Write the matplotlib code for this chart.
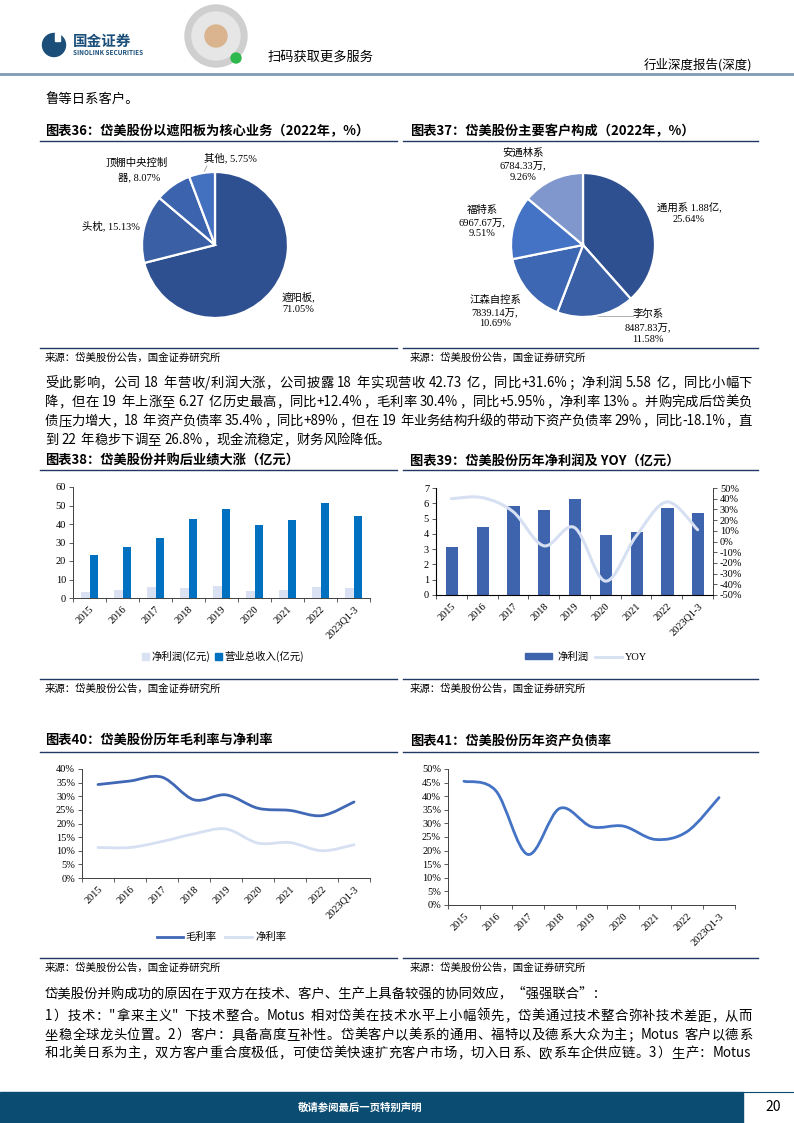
import numpy as np
import matplotlib
matplotlib.use('Agg')
import matplotlib.pyplot as plt
from matplotlib.path import Path
from matplotlib.patches import PathPatch, Rectangle, Circle
from matplotlib.lines import Line2D

plt.rcParams['font.family'] = ['Noto Sans CJK SC', 'DejaVu Sans']

W, H = 794, 1123

years = ['2015', '2016', '2017', '2018', '2019', '2020', '2021', '2022', '2023Q1-3']

# 图表36
biz_labels = ['遮阳板', '头枕', '顶棚中央控制器', '其他']
biz_share = [71.05, 15.13, 8.07, 5.75]
# 图表37
cust_labels = ['通用系', '李尔系', '江森自控系', '福特系', '安通林系']
cust_amount = ['1.88亿', '8487.83万', '7839.14万', '6967.67万', '6784.33万']
cust_share = [25.64, 11.58, 10.69, 9.51, 9.26]
# 图表38 / 39
net_profit = [3.15, 4.46, 5.84, 5.58, 6.30, 3.94, 4.14, 5.71, 5.38]
revenue = [23.2, 27.5, 32.4, 42.7, 48.1, 39.4, 42.2, 51.4, 44.3]
yoy = [40, 41, 28, -4, 13, -37, 5, 37, 11]
# 图表40
gross_margin = [34.3, 35.6, 37.0, 28.7, 30.5, 25.6, 24.8, 22.9, 27.9]
net_margin = [11.2, 11.2, 13.4, 16.2, 18.0, 12.8, 13.0, 10.0, 12.2]
# 图表41
debt_ratio = [45.5, 42.0, 18.6, 35.5, 28.8, 29.0, 24.1, 27.0, 39.5]

NAVY = '#1F3864'
SERIF = 'Liberation Serif'

fig = plt.figure(figsize=(W / 100, H / 100), dpi=100)
fig.patch.set_facecolor('white')
bg = fig.add_axes([0, 0, 1, 1])
bg.set_xlim(0, W)
bg.set_ylim(H, 0)
bg.axis('off')
renderer = fig.canvas.get_renderer()


def box(x0, y0, x1, y1):
    return [x0 / W, 1 - y1 / H, (x1 - x0) / W, (y1 - y0) / H]


def txt(x, y, s, size=10, ha='left', **kw):
    return bg.text(x, y, s, fontsize=size, ha=ha, va='center', **kw)


def hline(x0, x1, y, color=NAVY, lw=1.0):
    bg.add_line(Line2D([x0, x1], [y, y], color=color, lw=lw))


def justify(y, line, size, x0=45, x1=752, last=False):
    # split into tokens: full-width chars one by one, latin runs kept together
    em = size * 100 / 72
    tokens = []
    run = ''
    for ch in line:
        if ch == ' ' or ord(ch) >= 0x2000:
            if run:
                tokens.append(run)
                run = ''
            tokens.append(ch)
        else:
            run += ch
    if run:
        tokens.append(run)
    items = []
    for tk in tokens:
        if tk == ' ':
            items.append((None, em * 0.25))
        elif len(tk) == 1 and ord(tk) >= 0x2000:
            items.append((txt(0, y, tk, size), em))
        else:
            t = txt(0, y, tk, size)
            items.append((t, t.get_window_extent(renderer).width + 1))
    total = sum(w for _, w in items)
    extra = 0 if last else (x1 - x0 - total) / (len(items) - 1)
    xx = x0
    for t, w in items:
        if t is not None:
            t.set_x(xx)
        xx += w + extra


def smooth_path(xs, ys):
    pts = np.column_stack([xs, ys]).astype(float)
    n = len(pts)
    verts = [pts[0]]
    codes = [Path.MOVETO]
    for i in range(n - 1):
        p0 = pts[max(i - 1, 0)]
        p1 = pts[i]
        p2 = pts[i + 1]
        p3 = pts[min(i + 2, n - 1)]
        verts += [p1 + (p2 - p0) / 6, p2 - (p3 - p1) / 6, p2]
        codes += [Path.CURVE4] * 3
    return Path(verts, codes)


def style_ax(ax, ymax, ystep, pct=False):
    x = np.arange(len(years))
    ax.set_xlim(-0.5, len(years) - 0.5)
    ax.set_ylim(0, ymax)
    ticks = np.arange(0, ymax + 0.001, ystep)
    ax.set_yticks(ticks)
    if pct:
        ax.set_yticklabels([f'{int(v)}%' for v in ticks])
    ax.set_xticks(x)
    ax.set_xticklabels(years, rotation=45, ha='right', rotation_mode='anchor')
    ax.set_xticks(np.arange(-0.5, len(years), 1), minor=True)
    ax.tick_params(axis='x', which='major', length=0, pad=5)
    ax.tick_params(axis='x', which='minor', length=3, width=0.6, color='#404040')
    ax.tick_params(axis='y', length=3, width=0.6, color='#404040', pad=2)
    ax.tick_params(labelsize=7.5, labelfontfamily=SERIF)
    for s in ['top', 'right']:
        ax.spines[s].set_visible(False)
    for s in ['left', 'bottom']:
        ax.spines[s].set_linewidth(0.7)
        ax.spines[s].set_color('#404040')
    ax.patch.set_alpha(0)


# ---------------- header ----------------
bg.add_patch(Circle((54, 45), 11.5, color='#1B4F7A'))
bg.add_patch(Rectangle((55, 33), 5, 8, color='white'))
txt(73, 41, '国金证券', 10.5, weight='bold', color='#1B4F7A')
txt(73, 52.5, 'SINOLINK SECURITIES', 4.6, weight='bold', color='#1B4F7A')
bg.add_patch(Circle((216, 36), 31, color='#cfcfcf'))
bg.add_patch(Circle((216, 36), 24, color='#e6e6e6'))
bg.add_patch(Circle((216, 36), 11, color='#d9b48f'))
bg.add_patch(Circle((236, 58), 5, color='#2DB84D'))
txt(268, 57, '扫码获取更多服务', 9.5)
txt(752, 65, '行业深度报告(深度)', 9, ha='right')
hline(0, W, 74, color='#7F9BB5', lw=2)

txt(45, 100, '鲁等日系客户。', 9.6)

# ---------------- row 1 titles ----------------
txt(45, 131, '图表36：岱美股份以遮阳板为核心业务（2022年，%）', 9.5, weight='bold')
txt(410, 131, '图表37：岱美股份主要客户构成（2022年，%）', 9.5, weight='bold')
hline(40, 397, 141)
hline(403, 758, 141)

# pie 36
ax = fig.add_axes(box(142, 172, 288, 318))
ax.pie(biz_share, colors=['#2F5090', '#3A5FA5', '#3C64AE', '#4470C0'],
       startangle=90, counterclock=False,
       wedgeprops=dict(edgecolor='white', linewidth=1.6))
ax.set_xlim(-1, 1)
ax.set_ylim(-1, 1)
pl = dict(family=[SERIF, 'Noto Sans CJK SC'])
txt(230, 158, f'{biz_labels[3]}, {biz_share[3]:.2f}%', 7.5, ha='center', **pl)
bg.add_line(Line2D([207, 203], [166, 174], color='#a0a0a0', lw=0.6))
txt(137, 163, '顶棚中央控制', 7.5, ha='center', **pl)
txt(139, 177, f'器, {biz_share[2]:.2f}%', 7.5, ha='center', **pl)
txt(111, 226, f'{biz_labels[1]}, {biz_share[1]:.2f}%', 7.5, ha='center', **pl)
txt(298, 297, f'{biz_labels[0]},', 7.5, ha='center', **pl)
txt(298, 310, f'{biz_share[0]:.2f}%', 7.5, ha='center', **pl)

# pie 37
ax = fig.add_axes(box(511, 173, 655, 317))
ax.pie(cust_share, colors=['#2F5090', '#3A5FA5', '#3D67B2', '#4472C4', '#8097CE'],
       startangle=90, counterclock=False,
       wedgeprops=dict(edgecolor='white', linewidth=1.6))
ax.set_xlim(-1, 1)
ax.set_ylim(-1, 1)
txt(689, 208, f'{cust_labels[0]} {cust_amount[0]},', 7.5, ha='center', **pl)
txt(689, 220, f'{cust_share[0]:.2f}%', 7.5, ha='center', **pl)
txt(648, 314, cust_labels[1], 7.5, ha='center', **pl)
txt(648, 328, f'{cust_amount[1]},', 7.5, ha='center', **pl)
txt(648, 340, f'{cust_share[1]:.2f}%', 7.5, ha='center', **pl)
bg.add_line(Line2D([597, 633], [316, 316], color='#a0a0a0', lw=0.6))
for (cx, cy), i in zip([(495, 300), (482, 210), (523, 153)], [2, 3, 4]):
    txt(cx, cy, cust_labels[i], 7.5, ha='center', **pl)
    txt(cx, cy + 13, f'{cust_amount[i]},', 7.5, ha='center', **pl)
    txt(cx, cy + 24, f'{cust_share[i]:.2f}%', 7.5, ha='center', **pl)

hline(40, 397, 348)
hline(403, 758, 348)
src = '来源：岱美股份公告，国金证券研究所'
txt(45, 358, src, 7.5)
txt(410, 358, src, 7.5)

# ---------------- paragraph ----------------
para = [
    '受此影响，公司 18 年营收/利润大涨，公司披露 18 年实现营收 42.73 亿，同比+31.6%；净利润 5.58 亿，同比小幅下',
    '降，但在 19 年上涨至 6.27 亿历史最高，同比+12.4%，毛利率 30.4%，同比+5.95%，净利率 13%。并购完成后岱美负',
    '债压力增大，18 年资产负债率 35.4%，同比+89%，但在 19 年业务结构升级的带动下资产负债率 29%，同比-18.1%，直',
    '到 22 年稳步下调至 26.8%，现金流稳定，财务风险降低。',
]
for i, line in enumerate(para):
    justify(383 + i * 19, line, 9.6, last=(i == len(para) - 1))

# ---------------- row 2 ----------------
txt(45, 461, '图表38：岱美股份并购后业绩大涨（亿元）', 9.5, weight='bold')
txt(410, 461, '图表39：岱美股份历年净利润及 YOY（亿元）', 9.5, weight='bold')
hline(40, 397, 470)
hline(403, 758, 470)

x = np.arange(len(years))
ax = fig.add_axes(box(73, 487, 370, 598))
ax.bar(x - 0.13, net_profit, 0.26, color='#D9E1F2')
ax.bar(x + 0.13, revenue, 0.26, color='#0070C0')
style_ax(ax, 60, 10)
bg.add_patch(Rectangle((142, 653), 6.5, 6.5, color='#D9E1F2'))
txt(151, 656, '净利润(亿元)', 7.5)
bg.add_patch(Rectangle((215, 653), 6.5, 6.5, color='#0070C0'))
txt(224, 656, '营业总收入(亿元)', 7.5)

ax = fig.add_axes(box(436, 488, 713, 595))
ax.bar(x + 0.02, net_profit, 0.4, color='#3F64AE')
style_ax(ax, 7, 1)
ax2 = ax.twinx()
ax2.set_ylim(-50, 50)
ax2.set_yticks(np.arange(-50, 51, 10))
ax2.set_yticklabels([f'{v}%' for v in range(-50, 51, 10)])
ax2.tick_params(axis='y', length=3, width=0.6, color='#404040', pad=2,
                labelsize=7.5, labelfontfamily=SERIF)
ax2.spines['top'].set_visible(False)
ax2.spines['right'].set_linewidth(0.7)
ax2.spines['right'].set_color('#404040')
ax2.add_patch(PathPatch(smooth_path(x, yoy), fill=False, edgecolor='#D6E0F2', lw=2.2,
                        capstyle='round'))
bg.add_patch(Rectangle((525, 653), 27, 6, color='#3F64AE'))
txt(557, 657, '净利润', 7.5)
bg.add_line(Line2D([595, 622], [657, 657], color='#D6E0F2', lw=2))
txt(625, 657, 'YOY', 7.5, family=SERIF)

hline(40, 397, 679)
hline(403, 758, 679)
txt(45, 689, src, 7.5)
txt(410, 689, src, 7.5)

# ---------------- row 3 ----------------
txt(45, 740, '图表40：岱美股份历年毛利率与净利率', 9.5, weight='bold')
txt(410, 740, '图表41：岱美股份历年资产负债率', 9.5, weight='bold')
hline(40, 397, 752)
hline(403, 758, 752)

ax = fig.add_axes(box(82, 769, 370, 878))
style_ax(ax, 40, 5, pct=True)
ax.add_patch(PathPatch(smooth_path(x, gross_margin), fill=False, edgecolor='#4068B5', lw=2.0,
                       capstyle='round'))
ax.add_patch(PathPatch(smooth_path(x, net_margin), fill=False, edgecolor='#D6E0F2', lw=2.0,
                       capstyle='round'))
bg.add_line(Line2D([157, 183], [937, 937], color='#4068B5', lw=2))
txt(185, 937, '毛利率', 7.5)
bg.add_line(Line2D([225, 252], [937, 937], color='#D6E0F2', lw=2))
txt(255, 937, '净利率', 7.5)

ax = fig.add_axes(box(448, 769, 735, 905))
style_ax(ax, 50, 5, pct=True)
ax.add_patch(PathPatch(smooth_path(x, debt_ratio), fill=False, edgecolor='#4472C4', lw=2.0,
                       capstyle='round'))

hline(40, 397, 958)
hline(403, 758, 958)
txt(45, 968, src, 7.5)
txt(410, 968, src, 7.5)

# ---------------- bottom paragraph ----------------
txt(45, 993, '岱美股份并购成功的原因在于双方在技术、客户、生产上具备较强的协同效应，“强强联合”：', 9.6)
para2 = [
    '1）技术："拿来主义" 下技术整合。Motus 相对岱美在技术水平上小幅领先，岱美通过技术整合弥补技术差距，从而',
    '坐稳全球龙头位置。2）客户：具备高度互补性。岱美客户以美系的通用、福特以及德系大众为主；Motus 客户以德系',
    '和北美日系为主，双方客户重合度极低，可使岱美快速扩充客户市场，切入日系、欧系车企供应链。3）生产：Motus',
]
for y, line in zip([1016, 1035, 1053], para2):
    justify(y, line, 9.6)

# ---------------- footer ----------------
bg.add_patch(Rectangle((0, 1092), 743, 31, color='#0B4C72'))
hline(743, W, 1092, color='#0B4C72', lw=0.8)
txt(360, 1107, '敬请参阅最后一页特别声明', 7.5, ha='center', color='white', weight='bold')
txt(773, 1107, '20', 10, ha='center')

fig.savefig('out.png', dpi=100, facecolor='white')
